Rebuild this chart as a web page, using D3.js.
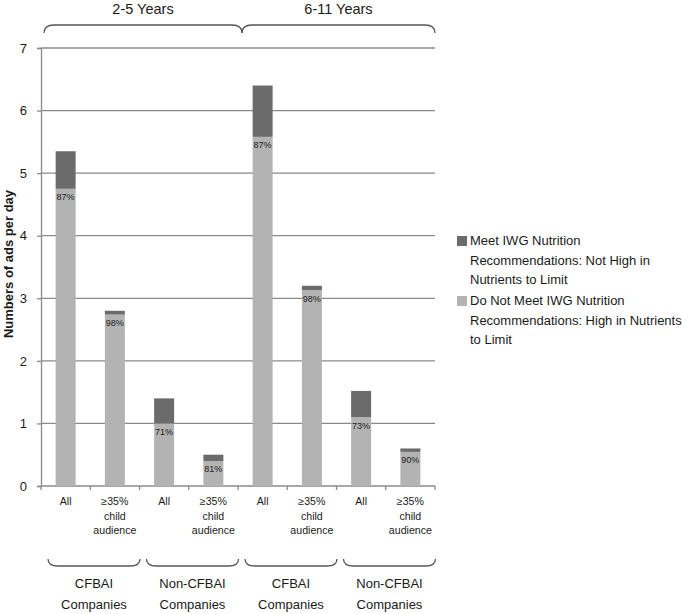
<!DOCTYPE html>
<html><head><meta charset="utf-8">
<script src="https://cdn.jsdelivr.net/npm/d3@7"></script>
<style>
body{margin:0;background:#fff;}
text{font-family:"Liberation Sans",Arial,sans-serif;fill:#1a1a1a;}
</style></head>
<body><svg id="c" width="693" height="614"></svg>
<script>
// ---- data ----
const categories = ["All", "≥35% child audience", "All", "≥35% child audience", "All", "≥35% child audience", "All", "≥35% child audience"];
const categoryLines = [["All"], ["≥35%", "child", "audience"], ["All"], ["≥35%", "child", "audience"], ["All"], ["≥35%", "child", "audience"], ["All"], ["≥35%", "child", "audience"]];
const companyGroups = [["CFBAI", "Companies"], ["Non-CFBAI", "Companies"], ["CFBAI", "Companies"], ["Non-CFBAI", "Companies"]];
const ageGroups = ["2-5 Years", "6-11 Years"];
const doNotMeet = [4.75, 2.74, 1.00, 0.40, 5.58, 3.13, 1.10, 0.545];
const meet = [0.60, 0.06, 0.40, 0.10, 0.82, 0.07, 0.42, 0.055];
const pctLabels = ["87%", "98%", "71%", "81%", "87%", "98%", "73%", "90%"];
const yTicks = [0, 1, 2, 3, 4, 5, 6, 7];
const legendLines = [["Meet IWG Nutrition", "Recommendations: Not High in", "Nutrients to Limit"],
                     ["Do Not Meet IWG Nutrition", "Recommendations: High in Nutrients", "to Limit"]];
const colors = {meet: "#6b6b6b", notMeet: "#b3b3b3"};

// ---- layout ----
const svg = d3.select("#c");
const pLeft = 41, pRight = 435, pTop = 48, pBottom = 486;
const y = d3.scaleLinear().domain([0, 7]).range([pBottom, pTop]);
const x = d3.scaleBand().domain(d3.range(categories.length)).range([pLeft, pRight]).paddingInner(0.594).paddingOuter(0.297);
const step = x.step();

// gridlines
svg.append("g").selectAll("line").data(yTicks).join("line")
  .attr("x1", pLeft).attr("x2", pRight)
  .attr("y1", d => y(d)).attr("y2", d => y(d))
  .attr("stroke", "#8a8a8a").attr("stroke-width", 1.3);

// y axis
const yAxis = svg.append("g").attr("transform", `translate(${pLeft},0)`)
  .call(d3.axisLeft(y).tickValues(yTicks).tickSize(4).tickPadding(10).tickFormat(d3.format("d")));
yAxis.select(".domain").attr("stroke", "#8a8a8a").attr("stroke-width", 1.3);
yAxis.selectAll(".tick line").attr("stroke", "#8a8a8a").attr("stroke-width", 1.3);
yAxis.selectAll(".tick text").style("font-size", "13px").attr("fill", "#1a1a1a")
  .style("font-family", "Liberation Sans, Arial, sans-serif");

// x axis boundary ticks
const bounds = d3.range(categories.length + 1);
svg.append("g").selectAll("line").data(bounds).join("line")
  .attr("x1", d => pLeft + d * step).attr("x2", d => pLeft + d * step)
  .attr("y1", pBottom).attr("y2", pBottom + 4)
  .attr("stroke", "#8a8a8a").attr("stroke-width", 1.3);

// bars
const bars = svg.append("g");
bars.selectAll("rect.nm").data(doNotMeet).join("rect").attr("class", "nm")
  .attr("x", (d, i) => x(i)).attr("width", x.bandwidth())
  .attr("y", d => y(d)).attr("height", d => y(0) - y(d))
  .attr("fill", colors.notMeet);
bars.selectAll("rect.m").data(meet).join("rect").attr("class", "m")
  .attr("x", (d, i) => x(i)).attr("width", x.bandwidth())
  .attr("y", (d, i) => y(doNotMeet[i] + d)).attr("height", (d, i) => y(doNotMeet[i]) - y(doNotMeet[i] + d))
  .attr("fill", colors.meet);
bars.selectAll("text").data(pctLabels).join("text")
  .attr("x", (d, i) => x(i) + x.bandwidth() / 2)
  .attr("y", (d, i) => y(doNotMeet[i]) + 11.5)
  .attr("text-anchor", "middle").style("font-size", "9px").attr("fill", "#333")
  .text(d => d);

// category labels
const cl = svg.append("g");
categoryLines.forEach((lines, i) => {
  lines.forEach((t, j) => {
    cl.append("text").attr("x", x(i) + x.bandwidth() / 2).attr("y", 505 + j * 14.5)
      .attr("text-anchor", "middle").style("font-size", "10.6px").text(t);
  });
});

// brace helper
function brace(x0, x1, yLine, yEnd) {
  const r = 10;
  return `M${x0},${yEnd} Q${x0},${yLine} ${x0 + r},${yLine} L${x1 - r},${yLine} Q${x1},${yLine} ${x1},${yEnd}`;
}

// bottom braces & group labels
const bg = svg.append("g");
companyGroups.forEach((lines, i) => {
  const x0 = pLeft + 7 + i * 2 * step, x1 = x0 + 92;
  bg.append("path").attr("d", brace(x0, x1, 566, 559)).attr("fill", "none")
    .attr("stroke", "#555").attr("stroke-width", 1.3);
  lines.forEach((t, j) => {
    bg.append("text").attr("x", (x0 + x1) / 2).attr("y", 588 + j * 20.5)
      .attr("text-anchor", "middle").style("font-size", "13px").text(t);
  });
});

// top braces & age labels
const tg = svg.append("g");
const junction = pLeft + 4 * step + 4;
ageGroups.forEach((t, i) => {
  const x0 = i ? junction : pLeft + 3;
  const x1 = i ? pRight : junction;
  tg.append("path").attr("d", brace(x0, x1, 25, 33))
    .attr("fill", "none").attr("stroke", "#555").attr("stroke-width", 1.3);
  tg.append("text").attr("x", (x0 + x1) / 2).attr("y", 14)
    .attr("text-anchor", "middle").style("font-size", "14.5px").text(t);
});

// y title
svg.append("text").attr("transform", "translate(13,264) rotate(-90)")
  .attr("text-anchor", "middle").style("font-size", "13px").style("font-weight", "bold")
  .text("Numbers of ads per day");

// legend
const lg = svg.append("g");
const legendColors = [colors.meet, colors.notMeet];
legendLines.forEach((lines, i) => {
  const y0 = 245 + i * 60;
  lg.append("rect").attr("x", 457).attr("y", y0 - 9).attr("width", 10).attr("height", 10)
    .attr("fill", legendColors[i]);
  lines.forEach((t, j) => {
    lg.append("text").attr("x", 470).attr("y", y0 + j * 19.5).style("font-size", "13px").text(t);
  });
});
</script></body></html>
